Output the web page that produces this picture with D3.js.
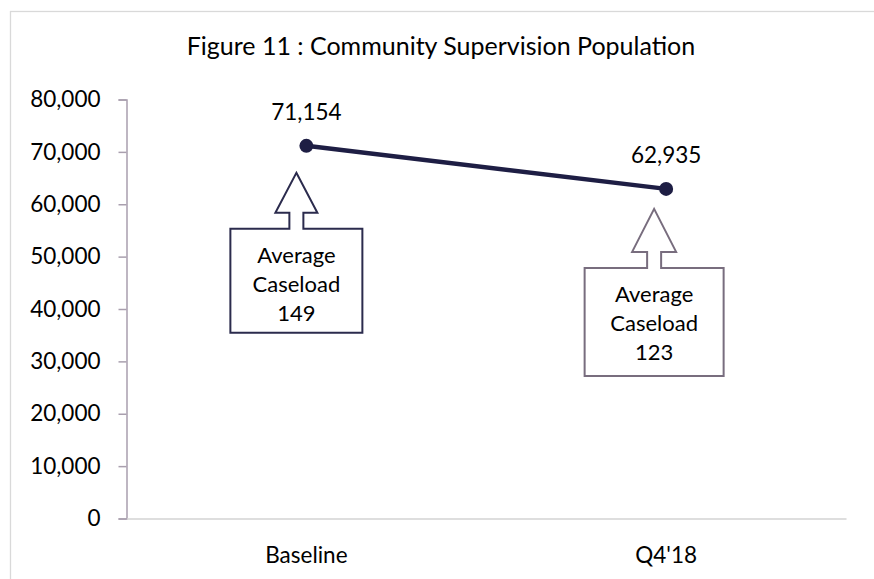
<!DOCTYPE html>
<html>
<head>
<meta charset="utf-8">
<script src="https://cdn.jsdelivr.net/npm/d3@7/dist/d3.min.js"></script>
<style>
  html, body { margin: 0; padding: 0; background: #fff; }
  svg { display: block; font-family: Lato, "Open Sans", sans-serif; }
</style>
</head>
<body>
<svg id="chart" width="874" height="579"></svg>
<script>
// Community supervision population, baseline vs Q4'18
const categories = ["Baseline", "Q4'18"];
const population = [71154, 62935];
const averageCaseload = [149, 123];
const yTicks = [0, 10000, 20000, 30000, 40000, 50000, 60000, 70000, 80000];
const chartTitle = "Figure 11 : Community Supervision Population";

const W = 874, H = 579;
const plot = { left: 126.5, right: 846, top: 99.5, bottom: 518.5 };

const svg = d3.select("#chart");

// chart frame
svg.append("rect")
  .attr("x", 10.5).attr("y", 11.5)
  .attr("width", W + 20).attr("height", H + 20)
  .attr("fill", "#fff").attr("stroke", "#d9d9d9").attr("stroke-width", 1.3);

const x = d3.scaleBand().domain(categories).range([plot.left, plot.right]);
const y = d3.scaleLinear().domain([0, 80000]).range([plot.bottom, plot.top]);
const fmt = d3.format(",");

// title
svg.append("text")
  .attr("x", 441).attr("y", 55)
  .attr("text-anchor", "middle")
  .attr("font-size", 25).attr("fill", "#000")
  .text(chartTitle);

// y axis
const yAxis = svg.append("g")
  .attr("transform", `translate(${plot.left},0)`)
  .call(d3.axisLeft(y).tickValues(yTicks).tickFormat(fmt).tickSize(8).tickPadding(18));
yAxis.select(".domain").attr("stroke", "#a99fae").attr("stroke-width", 1.5);
yAxis.selectAll(".tick line").attr("stroke", "#a99fae").attr("stroke-width", 1.5);
yAxis.selectAll(".tick text")
  .attr("font-size", 22.5).attr("fill", "#000")
  .attr("font-family", "Lato, sans-serif");

// x axis
const xAxis = svg.append("g")
  .attr("transform", `translate(0,${plot.bottom})`)
  .call(d3.axisBottom(x).tickSize(0).tickPadding(29));
xAxis.select(".domain").attr("stroke", "#d3d3d3").attr("stroke-width", 1.5);
xAxis.selectAll(".tick text")
  .attr("font-size", 22.5).attr("fill", "#000")
  .attr("font-family", "Lato, sans-serif");

const cx = d => x(d) + x.bandwidth() / 2;
const pts = categories.map((c, i) => ({ c, v: population[i], k: averageCaseload[i] }));

// population line
svg.append("path")
  .datum(pts)
  .attr("fill", "none")
  .attr("stroke", "#1e1e44")
  .attr("stroke-width", 4.5)
  .attr("d", d3.line().x(d => cx(d.c)).y(d => y(d.v)));

svg.selectAll("circle.pt")
  .data(pts).enter().append("circle")
  .attr("class", "pt")
  .attr("cx", d => cx(d.c)).attr("cy", d => y(d.v))
  .attr("r", 7).attr("fill", "#1e1e44");

// value labels just above each point
svg.selectAll("text.val")
  .data(pts).enter().append("text")
  .attr("class", "val")
  .attr("x", d => cx(d.c)).attr("y", d => y(d.v) - 26)
  .attr("text-anchor", "middle")
  .attr("font-size", 22.5).attr("fill", "#000")
  .text(d => fmt(d.v));

// caseload callouts: up-arrow shape pointing at each point
const callout = [
  { dx: -10, gap: 27, headH: 40, headHW: 21, stemHW: 7, stemH: 16, w: 132, h: 104, stroke: "#2b2b4d" },
  { dx: -12, gap: 20, headH: 43, headHW: 22, stemHW: 7, stemH: 16, w: 139, h: 108, stroke: "#786d7e" }
];

pts.forEach((d, i) => {
  const s = callout[i];
  const tx = cx(d.c) + s.dx;
  const ty = y(d.v) + s.gap;
  const hb = ty + s.headH;       // base of the arrowhead
  const bt = hb + s.stemH;       // top of the box
  const bb = bt + s.h;
  const bl = tx - s.w / 2, br = tx + s.w / 2;
  const shape = [
    [tx, ty], [tx + s.headHW, hb], [tx + s.stemHW, hb], [tx + s.stemHW, bt],
    [br, bt], [br, bb], [bl, bb], [bl, bt], [tx - s.stemHW, bt], [tx - s.stemHW, hb],
    [tx - s.headHW, hb]
  ];
  svg.append("path")
    .attr("d", "M" + shape.map(p => p.join(",")).join("L") + "Z")
    .attr("fill", "#fff").attr("stroke", s.stroke).attr("stroke-width", 2);

  const lines = ["Average", "Caseload", String(d.k)];
  svg.append("g").selectAll("text")
    .data(lines).enter().append("text")
    .attr("x", tx).attr("y", (t, j) => bt + 26 + j * 29)
    .attr("text-anchor", "middle").attr("dominant-baseline", "central")
    .attr("font-size", 22).attr("fill", "#000")
    .text(t => t);
});
</script>
</body>
</html>
